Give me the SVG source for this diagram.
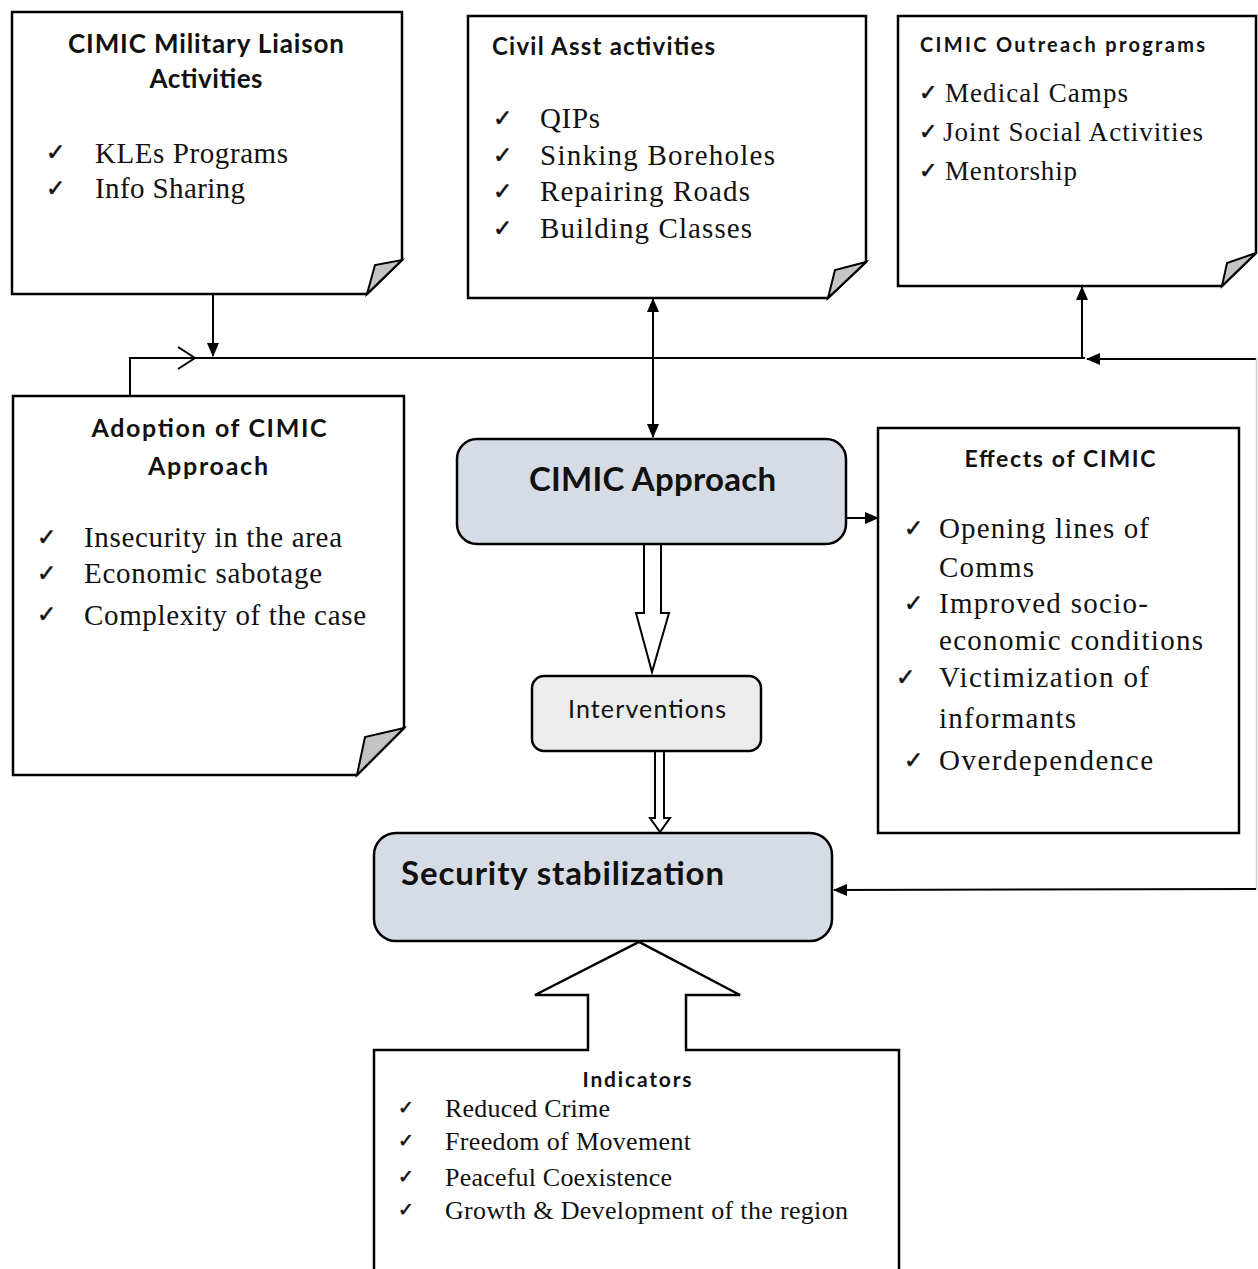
<svg xmlns="http://www.w3.org/2000/svg" width="1258" height="1269" viewBox="0 0 1258 1269">
<style>
.note{fill:#fff;stroke:#000;stroke-width:2.5;stroke-linejoin:miter}
.fold{fill:#c4c4c4;stroke:#000;stroke-width:2;stroke-linejoin:miter}
.hd{font-family:Lato,"Open Sans","Liberation Sans",sans-serif;font-weight:bold;fill:#111}
.it{font-family:"Liberation Serif","Times New Roman",serif;fill:#111}
.ck{font-family:"DejaVu Sans",sans-serif;fill:#111;stroke:#111;stroke-width:0.6}
.con{stroke:#000;stroke-width:2;fill:none}
.rb{fill:#d6dce5;stroke:#000;stroke-width:2.5}
</style>
<defs>
<marker id="ah" markerUnits="userSpaceOnUse" markerWidth="14" markerHeight="12" viewBox="0 0 14 12" refX="13" refY="6" orient="auto-start-reverse">
<path d="M0,0 L14,6 L0,12 Z" fill="#000"/>
</marker>
</defs>

<g id="connectors">
<line class="con" x1="213" y1="294" x2="213" y2="356" marker-end="url(#ah)"/>
<path class="con" d="M130,396 V358 H1085"/>
<path class="con" d="M178,347 L195,358 L178,369"/>
<line class="con" x1="1256" y1="359" x2="1087" y2="359" marker-end="url(#ah)"/>
<line class="con" x1="1082" y1="358" x2="1082" y2="287" marker-end="url(#ah)"/>
<line class="con" x1="653" y1="299" x2="653" y2="437" marker-start="url(#ah)" marker-end="url(#ah)"/>
<line class="con" x1="846" y1="518" x2="878" y2="518" marker-end="url(#ah)"/>
<line x1="1256.5" y1="358" x2="1256.5" y2="890" stroke="#cfcfcf" stroke-width="1.5"/>
<line class="con" x1="1256" y1="889" x2="834" y2="890" marker-end="url(#ah)"/>
<path d="M644,544 V613 H636 L652,672 L669,613 H661 V544" fill="#fff" stroke="#000" stroke-width="2"/>
<path d="M655,751 V818 H650 L660,832 L670,818 H664 V751" fill="#fff" stroke="#000" stroke-width="2"/>
</g>

<g id="liaison">
<path class="note" d="M12,12 H402 V260 L367,294 H12 Z"/>
<path class="fold" d="M367,294 L375,265 L402,260 Z"/>
<text class="hd" x="206" y="53" font-size="26" text-anchor="middle" textLength="276">CIMIC Military Liaison</text>
<text class="hd" x="206" y="88" font-size="26" text-anchor="middle" textLength="113">Activities</text>
<text class="ck" x="46" y="160" font-size="23">✓</text>
<text class="it" x="95" y="163" font-size="29" textLength="193">KLEs Programs</text>
<text class="ck" x="46" y="196" font-size="23">✓</text>
<text class="it" x="95" y="198" font-size="29" textLength="150">Info Sharing</text>
</g>

<g id="civil">
<path class="note" d="M468,16 H866 V262 L828,298 H468 Z"/>
<path class="fold" d="M828,298 L835,270 L866,262 Z"/>
<text class="hd" x="492" y="55" font-size="24" textLength="223">Civil Asst activities</text>
<text class="ck" x="493" y="126" font-size="23">✓</text>
<text class="it" x="540" y="128" font-size="29" textLength="60">QIPs</text>
<text class="ck" x="493" y="163" font-size="23">✓</text>
<text class="it" x="540" y="165" font-size="29" textLength="235">Sinking Boreholes</text>
<text class="ck" x="493" y="199" font-size="23">✓</text>
<text class="it" x="540" y="201" font-size="29" textLength="210">Repairing Roads</text>
<text class="ck" x="493" y="236" font-size="23">✓</text>
<text class="it" x="540" y="238" font-size="29" textLength="212">Building Classes</text>
</g>

<g id="outreach">
<path class="note" d="M898,16 H1256 V253 L1222,286 H898 Z"/>
<path class="fold" d="M1222,286 L1227,263 L1256,253 Z"/>
<text class="hd" x="920" y="52" font-size="20" textLength="285">CIMIC Outreach programs</text>
<text class="ck" x="919" y="100" font-size="22">✓</text>
<text class="it" x="945" y="102" font-size="27" textLength="183">Medical Camps</text>
<text class="ck" x="919" y="139" font-size="22">✓</text>
<text class="it" x="943" y="141" font-size="27" textLength="260">Joint Social Activities</text>
<text class="ck" x="919" y="178" font-size="22">✓</text>
<text class="it" x="945" y="180" font-size="27" textLength="132">Mentorship</text>
</g>

<g id="adoption">
<path class="note" d="M13,396 H404 V728 L357,775 H13 Z"/>
<path class="fold" d="M357,775 L365,737 L404,728 Z"/>
<text class="hd" x="209" y="437" font-size="25" text-anchor="middle" textLength="235">Adoption of CIMIC</text>
<text class="hd" x="208" y="475" font-size="25" text-anchor="middle" textLength="120">Approach</text>
<text class="ck" x="37" y="545" font-size="23">✓</text>
<text class="it" x="84" y="547" font-size="29" textLength="258">Insecurity in the area</text>
<text class="ck" x="37" y="581" font-size="23">✓</text>
<text class="it" x="84" y="583" font-size="29" textLength="238">Economic sabotage</text>
<text class="ck" x="37" y="622" font-size="23">✓</text>
<text class="it" x="84" y="625" font-size="29" textLength="282">Complexity of the case</text>
</g>

<g id="cimic-approach">
<rect class="rb" x="457" y="439" width="389" height="105" rx="20"/>
<text class="hd" x="529" y="491" font-size="33" font-weight="600" textLength="247">CIMIC Approach</text>
</g>

<g id="effects">
<rect x="878" y="428" width="361" height="405" fill="#fff" stroke="#000" stroke-width="2.5"/>
<text class="hd" x="1060" y="467" font-size="23" text-anchor="middle" textLength="191">Effects of CIMIC</text>
<text class="ck" x="904" y="536" font-size="23">✓</text>
<text class="it" x="939" y="538" font-size="29" textLength="210">Opening lines of</text>
<text class="it" x="939" y="577" font-size="29" textLength="95">Comms</text>
<text class="ck" x="904" y="611" font-size="23">✓</text>
<text class="it" x="939" y="613" font-size="29" textLength="209">Improved socio-</text>
<text class="it" x="939" y="650" font-size="29" textLength="264">economic conditions</text>
<text class="ck" x="896" y="685" font-size="23">✓</text>
<text class="it" x="939" y="687" font-size="29" textLength="210">Victimization of</text>
<text class="it" x="939" y="728" font-size="29" textLength="137">informants</text>
<text class="ck" x="904" y="768" font-size="23">✓</text>
<text class="it" x="939" y="770" font-size="29" textLength="214">Overdependence</text>
</g>

<g id="interventions">
<rect x="532" y="676" width="229" height="75" rx="12" fill="#ececec" stroke="#000" stroke-width="2.5"/>
<text x="568" y="718" font-family="Lato,'Open Sans','Liberation Sans',sans-serif" font-size="25" fill="#111" textLength="158">Interventions</text>
</g>

<g id="security">
<rect class="rb" x="374" y="833" width="458" height="108" rx="22"/>
<text class="hd" x="401" y="885" font-size="33" font-weight="600" textLength="323">Security stabilization</text>
</g>

<g id="indicators">
<path d="M374,1275 V1050 H588 V995 H535 L639,942 L740,995 H686 V1050 H899 V1275" fill="#fff" stroke="#000" stroke-width="2.5" stroke-linejoin="miter"/>
<text class="hd" x="637" y="1087" font-size="21" text-anchor="middle" textLength="109">Indicators</text>
<text class="ck" x="398" y="1114" font-size="19">✓</text>
<text class="it" x="445" y="1117" font-size="26" textLength="165">Reduced Crime</text>
<text class="ck" x="398" y="1147" font-size="19">✓</text>
<text class="it" x="445" y="1150" font-size="26" textLength="246">Freedom of Movement</text>
<text class="ck" x="398" y="1183" font-size="19">✓</text>
<text class="it" x="445" y="1186" font-size="26" textLength="227">Peaceful Coexistence</text>
<text class="ck" x="398" y="1216" font-size="19">✓</text>
<text class="it" x="445" y="1219" font-size="26" textLength="403">Growth &amp; Development of the region</text>
</g>
</svg>
